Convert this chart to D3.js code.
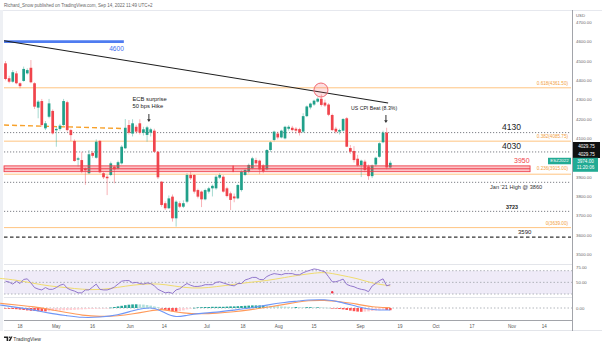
<!DOCTYPE html>
<html><head><meta charset="utf-8">
<script src="https://cdn.jsdelivr.net/npm/d3@7"></script>
<style>
body{margin:0;background:#fff;}
svg{display:block;}
text{font-family:"Liberation Sans",Arial,sans-serif;}
</style>
</head><body>
<svg id="c" width="602" height="345"></svg>
<script>
// ---------- DATA ----------
const opens = [4488,4411,4393,4436,4385,4397,4436,4465,4385,4259,4293,4152,4212,4242,4142,4149,4169,4287,4143,4087,
3990,3988,3945,3920,4025,4000,4087,3920,3902,3911,3954,3945,3971,4049,4169,4125,4160,4178,4129,4118,
4130,4140,4031,3876,3765,3739,3799,3687,3765,3747,3773,3911,3911,3833,3825,3785,3825,3842,3842,3897,
3902,3842,3816,3800,3790,3833,3911,3928,3945,3988,3985,3960,3940,4040,4092,4125,4105,4100,4150,4155,
4150,4148,4135,4215,4260,4275,4290,4305,4285,4275,4221,4150,4135,4140,4204,4050,4035,3995,3962,3980,
3955,3905,3965,4005,4080,4130,3950];
const highs = [4500,4424,4453,4448,4390,4471,4462,4505,4390,4298,4304,4190,4304,4250,4160,4175,4304,4295,4150,4095,
4005,4031,3950,4040,4035,4095,4092,3925,3910,3980,3960,3985,4065,4200,4195,4199,4170,4199,4160,4165,
4155,4150,4035,3880,3775,3805,3810,3780,3775,3780,3920,3928,3915,3840,3830,3840,3850,3862,3910,3920,
3910,3850,3825,3815,3865,3935,3945,3970,4005,4000,3990,3968,4045,4085,4140,4135,4145,4165,4168,4165,
4158,4155,4230,4270,4285,4300,4312,4327,4300,4282,4228,4160,4150,4205,4210,4066,4060,4015,3990,3990,
3965,3965,4005,4080,4140,4155,3985];
const lows = [4400,4385,4388,4380,4359,4393,4430,4385,4252,4204,4160,4143,4204,4120,4057,4140,4165,4135,4087,3980,
3954,3920,3860,3915,4000,3995,3920,3890,3807,3905,3868,3940,3965,4045,4120,4110,4125,4120,4115,4083,
4110,4025,3890,3747,3730,3735,3670,3644,3740,3740,3765,3885,3815,3790,3745,3780,3815,3800,3835,3890,
3820,3795,3730,3770,3785,3825,3905,3920,3940,3960,3915,3920,3935,4030,4085,4095,4100,4095,4140,4135,
4125,4115,4128,4210,4250,4268,4285,4265,4262,4215,4138,4125,4120,4135,4055,4020,3975,3955,3900,3925,
3886,3895,3955,4000,4075,3940,3945];
const closes = [4407,4393,4442,4385,4370,4459,4453,4390,4264,4290,4169,4178,4281,4126,4149,4166,4293,4143,4117,3983,
3997,3928,3935,4018,4010,4083,3925,3899,3894,3971,3940,3977,4057,4155,4129,4178,4135,4129,4147,4157,
4147,4031,3899,3756,3739,3790,3687,3773,3747,3765,3911,3894,3825,3799,3785,3833,3842,3855,3902,3911,
3825,3802,3782,3790,3859,3928,3937,3963,3997,3971,3940,3930,4040,4080,4135,4105,4140,4160,4160,4143,
4140,4130,4215,4265,4280,4295,4305,4273,4270,4222,4143,4135,4143,4200,4057,4031,3988,3960,3985,3937,
3905,3960,4000,4075,4130,3950,3974];

const rsi = [52,50.5,47,52,48,55,56,49,41,38.5,37,41,38,38,41,45,47,40,37,35,
32,32,37,37,42,47,38,37,37,39,42,47,52,53,53,49,50,48,47,49,
48,44,38,35,32,33,31,37,39,44,48,45,43,43,44,46,46,46,50,51,
49,47,45,44,48,48,54,56,58.5,58.5,55,54.5,60,63,65,64,63,65,65,65,
63,63,66.5,69,71,73,72,70,68,59.6,51,51,53,55.6,46.5,44,42.5,39.7,38,37,
34,43.7,48,53,56,44,46];
const rsiMaIdx = [-1.5,3,8,12,17,21,26,31,35,40,44,49,54,58,63,67,72,77,81,84,88,92,97,101,106];
const rsiMaVal = [56.8,54,48,43.7,40.8,38,36.8,41.4,45.4,48,46.5,40.8,39.7,42.5,46.5,50,52.8,58.5,62.5,65,68,62.5,56.8,48.2,44];
const rsiDot = {i:90, v:33};

const macdIdx = [-1.5,3,8,12,17,21,26,31,35,38,41,44,47,50,54,58,63,67,72,77,81,83,88,92,97,101,106];
const macdVal = [30,7,-20,-53,-77,-97,-93,-70,-27,-3,7,-53,-97,-70,-53,-43,-20,-3,30,57,70,80,87,63,13,-20,-20];
const signalIdx = [-1.5,3,8,12,17,21,26,31,35,40,43,44,49,54,58,63,67,72,77,81,83,88,92,97,101,106];
const signalVal = [47,30,13,-13,-47,-73,-87,-80,-60,-27,-13,-20,-53,-60,-53,-37,-20,7,37,63,73,80,63,40,7,3];
const hist = [-6,-8,-10,-12,-16,-20,-24,-28,-30,-32,-33,-34,
-32,-30,-28,-26,-24,-22,-20,-18,-16,-14,-12,-10,-9,-8,-6,-4,-2,
4,10,16,22,28,33,36,37,36,34,
30,24,16,8,
-6,-18,-28,-34,-36,-32,-24,-14,
-6,2,6,8,10,10,12,12,12,12,14,16,16,18,20,22,24,26,26,26,26,24,22,20,18,16,14,12,10,10,9,
8,8,8,7,7,6,4,2,-2,-6,-10,
-14,-20,-26,-32,-36,-38,-36,-34,-30,-26,-22,-18,-20,-22];

const priceTicks = [4700,4600,4500,4400,4300,4200,4100,4000,3900,3800,3700,3600,3500];
const xTickIdx = [4,14,24,34.3,43.7,55.5,65.4,75.3,85,97.8,108.7,118.6,128.5,139.5,148.4];
const xTickLabels = ["18","May","16","Jun","14","Jul","18","Aug","15","Sep","19","Oct","17","Nov","14"];

const dottedLevels = [4130,4030,3873,3723];
const fibLevels = [4361.5,4085.75,3915,3639];
const fibLabels = ["0.618(4361.50)","0.382(4085.75)","0.236(3915.00)","0(3639.00)"];
const dashedLevel = 3590;
const trendLine = [{i:-0.4,p:4605},{i:105.4,p:4283}];
const oldDashed = [{i:-0.4,p:4169},{i:32.4,p:4151}];
const blueLevel = {i0:-0.4,i1:32.6,p:4600};
const bandLo = 3928, bandHi = 3958;
const bandSegs = [[-0.4,62.7],[62.7,144.5]];
const circleAt = {i:86.9, p:4350};
const lastPrice = 3974;

// ---------- SCALES ----------
const svg = d3.select("#c");
const x = d3.scaleLinear().domain([0,156]).range([5.5,571.8]);
const y = d3.scaleLinear().domain([3500,4700]).range([254.5,22.3]);
const yR = d3.scaleLinear().domain([30,70]).range([294,270.7]);
const yM = d3.scaleLinear().domain([-100,100]).range([318,298]);
const L = 4, R = 572;
const RED = "#f0444c", TEAL = "#21a08a", FIB = "#ffbd73";

// left strip + frames
svg.append("rect").attr("x",0).attr("y",10).attr("width",3).attr("height",321).attr("fill","#eef0f4");
svg.append("line").attr("x1",3).attr("x2",602).attr("y1",10.5).attr("y2",10.5).attr("stroke","#e6e8ee");
svg.append("text").attr("x",4).attr("y",6.6).attr("font-size",4.5).attr("fill","#666")
  .text("Richard_Snow published on TradingView.com, Sep 14, 2022 11:49 UTC+2");

// pane separators
[264.5,297.5].forEach(v=>svg.append("line").attr("x1",L).attr("x2",R).attr("y1",v).attr("y2",v).attr("stroke","#e3e5ea"));
svg.append("line").attr("x1",L).attr("x2",R).attr("y1",320.5).attr("y2",320.5).attr("stroke","#8a8d94").attr("stroke-width",0.8);
svg.append("line").attr("x1",L).attr("x2",602).attr("y1",330.5).attr("y2",330.5).attr("stroke","#e3e5ea");
svg.append("line").attr("x1",R+0.5).attr("x2",R+0.5).attr("y1",10).attr("y2",331).attr("stroke","#8a8d94").attr("stroke-width",0.8);

// ---------- MAIN PANE LEVELS ----------
const g = svg.append("g");
fibLevels.forEach((p,k)=>{
  g.append("line").attr("x1",L).attr("x2",R-1).attr("y1",y(p)).attr("y2",y(p)).attr("stroke",FIB).attr("stroke-width",0.9);
  g.append("text").attr("x",568).attr("y",y(p)-(k===2?4:2.8)).attr("text-anchor","end")
    .attr("font-size",4.6).attr("fill","#f2a040").text(fibLabels[k]);
});
dottedLevels.forEach(p=>{
  g.append("line").attr("x1",L).attr("x2",R-1).attr("y1",y(p)).attr("y2",y(p))
   .attr("stroke","#6f7279").attr("stroke-width",0.9).attr("stroke-dasharray","1.2,1.8");
});
g.append("line").attr("x1",L).attr("x2",R-1).attr("y1",y(dashedLevel)).attr("y2",y(dashedLevel))
  .attr("stroke","#333").attr("stroke-width",1.1).attr("stroke-dasharray","3.5,2.5");

// old orange dashed
g.append("line").attr("x1",x(oldDashed[0].i)).attr("x2",x(oldDashed[1].i))
  .attr("y1",y(oldDashed[0].p)).attr("y2",y(oldDashed[1].p))
  .attr("stroke","#f7a12b").attr("stroke-width",1.4).attr("stroke-dasharray","5,3");

// blue 4600
g.append("line").attr("x1",x(blueLevel.i0)).attr("x2",x(blueLevel.i1)).attr("y1",y(blueLevel.p)).attr("y2",y(blueLevel.p))
  .attr("stroke","#4f7cf0").attr("stroke-width",2.6);
g.append("text").attr("x",x(blueLevel.i1)).attr("y",y(blueLevel.p)+9.5).attr("text-anchor","end")
  .attr("font-size",6.6).attr("fill","#3d6ef0").text("4600");

// ---------- CANDLES ----------
const cg = svg.append("g");
const bw = 2.7;
closes.forEach((c,i)=>{
  const o = opens[i], up = c>=o, col = up?TEAL:RED;
  cg.append("line").attr("x1",x(i)).attr("x2",x(i)).attr("y1",y(highs[i])).attr("y2",y(lows[i]))
    .attr("stroke",col).attr("stroke-opacity",0.45).attr("stroke-width",0.9);
  const top = y(Math.max(o,c)), bot = y(Math.min(o,c));
  cg.append("rect").attr("x",x(i)-bw/2).attr("y",top).attr("width",bw).attr("height",Math.max(0.9,bot-top)).attr("fill",col);
});

// trend line
svg.append("line").attr("x1",x(trendLine[0].i)).attr("x2",x(trendLine[1].i))
  .attr("y1",y(trendLine[0].p)).attr("y2",y(trendLine[1].p)).attr("stroke","#1e1e1e").attr("stroke-width",1.1);

// red band
bandSegs.forEach(s=>{
  svg.append("rect").attr("x",x(s[0])).attr("y",y(bandHi)).attr("width",x(s[1])-x(s[0])).attr("height",y(bandLo)-y(bandHi))
    .attr("fill","rgba(242,70,80,0.32)").attr("stroke","#ef3f4b").attr("stroke-width",0.9);
  svg.append("line").attr("x1",x(s[0])).attr("x2",x(s[1])).attr("y1",y((bandLo+bandHi)/2)).attr("y2",y((bandLo+bandHi)/2))
    .attr("stroke","#ef3f4b").attr("stroke-width",1);
});

// circle
svg.append("circle").attr("cx",x(circleAt.i)).attr("cy",y(circleAt.p)).attr("r",7)
  .attr("fill","rgba(242,80,90,0.18)").attr("stroke","#f06a74").attr("stroke-width",1);

// level texts
const T = (xx,yy,s,fs,col,w)=>svg.append("text").attr("x",xx).attr("y",yy).attr("font-size",fs).attr("fill",col).attr("font-weight",w||400).text(s);
T(502,y(4130)-2.3,"4130",8.5,"#222",500);
T(502,y(4030)-2.8,"4030",8.5,"#222",500);
T(514,y(bandHi)-2.6,"3950",7,"#f0444c",500);
T(490,y(3873)+6.5,"Jan '21 High @ 3860",5.6,"#333");
T(506,y(3723)-2.6,"3723",5.4,"#222",600);
T(518,y(dashedLevel)-3,"3590",6,"#222");

// annotations
T(132.5,100.5,"ECB surprise",5.8,"#222",500);
T(132.5,107.5,"50 bps Hike",5.8,"#222",500);
T(351,110.3,"US CPI Beat (8.3%)",5.2,"#222",500);
function arrow(i,p1,p2){
  const xx=x(i), y1=y(p1), y2=y(p2);
  svg.append("line").attr("x1",xx).attr("x2",xx).attr("y1",y1).attr("y2",y2-2).attr("stroke","#333").attr("stroke-width",1);
  svg.append("path").attr("d",`M${xx-1.8},${y2-2.6}L${xx+1.8},${y2-2.6}L${xx},${y2}Z`).attr("fill","#333");
}
arrow(39.5,4226,4185);
arrow(104.8,4221,4180);

// ---------- RIGHT AXIS ----------
svg.append("text").attr("x",576).attr("y",17).attr("font-size",4.3).attr("fill","#666").text("USD");
priceTicks.forEach(p=>{
  svg.append("text").attr("x",576).attr("y",y(p)+1.6).attr("font-size",4.3).attr("fill","#666").text(p.toFixed(2));
});
[[75,"75.00"],[50,"50.00"]].forEach(d=>svg.append("text").attr("x",576).attr("y",yR(d[0])+1.6).attr("font-size",4.3).attr("fill","#666").text(d[1]));
svg.append("text").attr("x",576).attr("y",yM(0)+1.6).attr("font-size",4.3).attr("fill","#666").text("0.00");

// black boxes
[146,154].forEach(cy=>{
  svg.append("rect").attr("x",573).attr("y",cy-4).attr("width",27).attr("height",8).attr("fill","#111");
  svg.append("text").attr("x",586.5).attr("y",cy+1.6).attr("text-anchor","middle").attr("font-size",4.6).attr("fill","#fff").text("4029.75");
});
// teal boxes
svg.append("rect").attr("x",548).attr("y",y(lastPrice)-5).attr("width",23).attr("height",6.5).attr("fill","#22ab94");
svg.append("text").attr("x",559.5).attr("y",y(lastPrice)-0.3).attr("text-anchor","middle").attr("font-size",4.4).attr("fill","#fff").text("ESZ2022");
svg.append("rect").attr("x",573).attr("y",y(lastPrice)-5).attr("width",25).attr("height",14).attr("fill","#22ab94");
svg.append("text").attr("x",585.5).attr("y",y(lastPrice)+0.3).attr("text-anchor","middle").attr("font-size",4.6).attr("fill","#fff").text("3974.00");
svg.append("text").attr("x",585.5).attr("y",y(lastPrice)+6.3).attr("text-anchor","middle").attr("font-size",4.6).attr("fill","#fff").text("11:20:06");

// ---------- RSI PANE ----------
svg.append("rect").attr("x",L).attr("y",yR(70)).attr("width",R-L).attr("height",yR(30)-yR(70)).attr("fill","rgba(126,87,194,0.12)");
[70,50,30].forEach(v=>svg.append("line").attr("x1",L).attr("x2",R).attr("y1",yR(v)).attr("y2",yR(v))
  .attr("stroke","#a0a3ab").attr("stroke-width",0.8).attr("stroke-dasharray","1.5,2"));
svg.append("path").datum(rsiMaIdx.map((d,k)=>[d,rsiMaVal[k]]))
  .attr("d",d3.line().x(d=>x(d[0])).y(d=>yR(d[1])).curve(d3.curveBasis))
  .attr("fill","none").attr("stroke","#f0dc6e").attr("stroke-width",1);
svg.append("path").datum(rsi)
  .attr("d",d3.line().x((d,i)=>x(i)).y(d=>yR(d)))
  .attr("fill","none").attr("stroke","#9277cc").attr("stroke-width",1);
svg.append("circle").attr("cx",x(rsiDot.i)).attr("cy",yR(rsiDot.v)).attr("r",1.2).attr("fill","#f23645");

// ---------- MACD PANE ----------
svg.append("line").attr("x1",L).attr("x2",R).attr("y1",yM(0)).attr("y2",yM(0))
  .attr("stroke","#a0a3ab").attr("stroke-width",0.8).attr("stroke-dasharray","1.5,2");
hist.forEach((h,i)=>{
  const prev = i>0?hist[i-1]:h;
  let col;
  if(h>=0) col = h>=prev? "#26a69a":"#b2dfdb";
  else col = h<=prev? "#ff5252":"#ffcdd2";
  const y0 = yM(0), y1 = yM(h);
  svg.append("rect").attr("x",x(i)-1.3).attr("y",Math.min(y0,y1)).attr("width",2.6).attr("height",Math.max(0.6,Math.abs(y1-y0))).attr("fill",col);
});
svg.append("path").datum(signalIdx.map((d,k)=>[d,signalVal[k]]))
  .attr("d",d3.line().x(d=>x(d[0])).y(d=>yM(d[1])).curve(d3.curveBasis))
  .attr("fill","none").attr("stroke","#ff9a5a").attr("stroke-width",1.1);
svg.append("path").datum(macdIdx.map((d,k)=>[d,macdVal[k]]))
  .attr("d",d3.line().x(d=>x(d[0])).y(d=>yM(d[1])).curve(d3.curveBasis))
  .attr("fill","none").attr("stroke","#6f97f7").attr("stroke-width",1.1);

// ---------- X AXIS ----------
xTickIdx.forEach((t,k)=>{
  svg.append("text").attr("x",x(t)).attr("y",327.5).attr("text-anchor","middle").attr("font-size",4.5).attr("fill","#555").text(xTickLabels[k]);
});

// TradingView logo
svg.append("path").attr("d","M4,336.5h4.2v4.5h-1.6v-3h-2.6z M8.6,341l2.2-4.5h1.7l-2.2,4.5z").attr("fill","#222");
svg.append("circle").attr("cx",9.6).attr("cy",337.3).attr("r",0.8).attr("fill","#222");
svg.append("text").attr("x",13.3).attr("y",340.6).attr("font-size",5).attr("fill","#333").text("TradingView");
</script>
</body></html>
